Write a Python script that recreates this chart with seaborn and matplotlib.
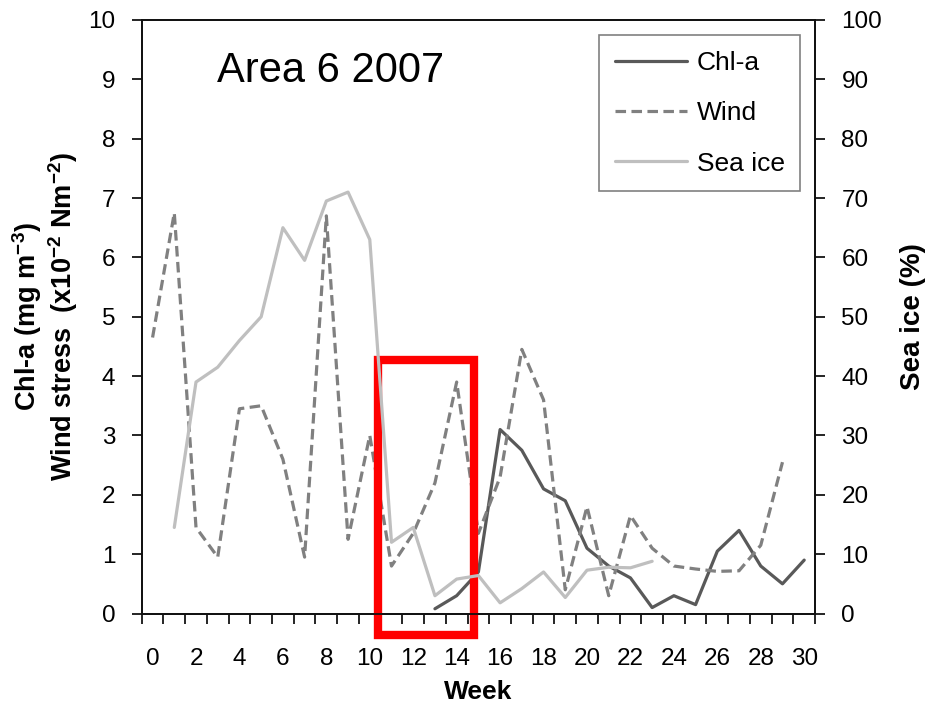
import matplotlib
matplotlib.use("Agg")
import matplotlib.pyplot as plt
from matplotlib.patches import Rectangle
import seaborn as sns
import pandas as pd

# weekly values
wind_weeks = list(range(0, 30))
wind = [4.65, 6.75, 1.45, 0.95, 3.45, 3.5, 2.6, 0.95, 6.7, 1.25,
        3.0, 0.8, 1.35, 2.2, 3.9, 1.35, 2.3, 4.45, 3.6, 0.4,
        1.8, 0.3, 1.65, 1.1, 0.8, 0.75, 0.71, 0.72, 1.15, 2.55]

ice_weeks = list(range(1, 24))
sea_ice = [14.5, 39, 41.5, 46, 50, 65, 59.5, 69.5, 71, 63,
           12, 14.5, 3, 5.8, 6.4, 1.8, 4.2, 7, 2.7, 7.3,
           7.8, 7.7, 8.8]

chl_weeks = list(range(13, 31))
chl = [0.08, 0.3, 0.7, 3.1, 2.75, 2.1, 1.9, 1.1, 0.8, 0.6,
       0.1, 0.3, 0.15, 1.05, 1.4, 0.8, 0.5, 0.9]

week_labels = list(range(0, 31, 2))
left_ticks = list(range(0, 11))
right_ticks = list(range(0, 101, 10))

# highlighted window (weeks / left-axis units)
box_x0, box_x1 = 10.4, 14.78
box_y0, box_y1 = -0.36, 4.27

df_wind = pd.DataFrame({"week": wind_weeks, "val": wind})
df_ice = pd.DataFrame({"week": ice_weeks, "val": sea_ice})
df_chl = pd.DataFrame({"week": chl_weeks, "val": chl})

sns.set_style("ticks")
plt.rcParams["font.family"] = ["Liberation Sans", "DejaVu Sans"]
plt.rcParams["mathtext.fontset"] = "custom"
plt.rcParams["mathtext.bf"] = "Liberation Sans:bold"
plt.rcParams["mathtext.rm"] = "Liberation Sans:bold"
plt.rcParams["mathtext.default"] = "bf"
for key in ("text.color", "axes.labelcolor", "xtick.color", "ytick.color"):
    plt.rcParams[key] = "black"

fig = plt.figure(figsize=(9.28, 7.06), dpi=100)
ax = fig.add_axes([0.1527, 0.131, 0.7256, 0.8407])
ax2 = ax.twinx()

lw = 2.3
sns.lineplot(data=df_chl, x="week", y="val", ax=ax, color="#595959",
             linewidth=lw, label="Chl-a", legend=False)
sns.lineplot(data=df_wind, x="week", y="val", ax=ax, color="#808080",
             linewidth=lw, linestyle=(0, (3.3, 1.7)), label="Wind", legend=False)
sns.lineplot(data=df_ice, x="week", y="val", ax=ax2, color="#bfbfbf",
             linewidth=lw, label="Sea ice", legend=False)

ax.set_xlim(-0.5, 30.5)
ax.set_ylim(0, 10)
ax2.set_ylim(0, 100)

ax.set_xticks(week_labels)
ax.set_xticks([w - 0.5 for w in range(0, 32)], minor=True)
ax.tick_params(axis="x", which="major", length=0, pad=25, labelsize=17.5)
ax.tick_params(axis="x", which="minor", length=7, width=1.2, direction="out")
ax.set_yticks(left_ticks)
ax.tick_params(axis="y", length=7, width=1.2, direction="out", pad=12, labelsize=17.5)
ax2.set_yticks(right_ticks)
ax2.tick_params(axis="y", length=7, width=1.2, direction="out", pad=12, labelsize=17.5)

for a in (ax, ax2):
    for s in a.spines.values():
        s.set_linewidth(1.3)
        s.set_color("#111111")

ax.set_xlabel("Week", fontsize=19, fontweight="bold")
ax.xaxis.set_label_coords(0.5, -0.112)
ax.set_ylabel("Chl-a (mg m$^{-3}$)\nWind stress  (x10$^{-2}$ Nm$^{-2}$)",
              fontsize=19.5, fontweight="bold", linespacing=1.1)
ax.yaxis.set_label_coords(-0.091, 0.5)
ax2.set_ylabel("Sea ice (%)", fontsize=20, fontweight="bold")
ax2.yaxis.set_label_coords(1.126, 0.5)

ax.text(2.95, 8.96, "Area 6 2007", fontsize=30, va="baseline", ha="left")

h1, l1 = ax.get_legend_handles_labels()
h2, l2 = ax2.get_legend_handles_labels()
leg = ax2.legend(h1 + h2, l1 + l2, loc="upper left",
                 bbox_to_anchor=(0.6455, 0.9504), bbox_transform=fig.transFigure,
                 borderaxespad=0, fontsize=19, handlelength=2.75, handletextpad=0.35,
                 labelspacing=1.0, borderpad=0.6, fancybox=False, framealpha=1)
leg.get_frame().set_edgecolor("#808080")
leg.get_frame().set_linewidth(1.2)

ax.add_patch(Rectangle((box_x0, box_y0), box_x1 - box_x0, box_y1 - box_y0,
                       fill=False, edgecolor="#ff0000", linewidth=6,
                       clip_on=False, zorder=10))

fig.savefig("out.png", dpi=100)
